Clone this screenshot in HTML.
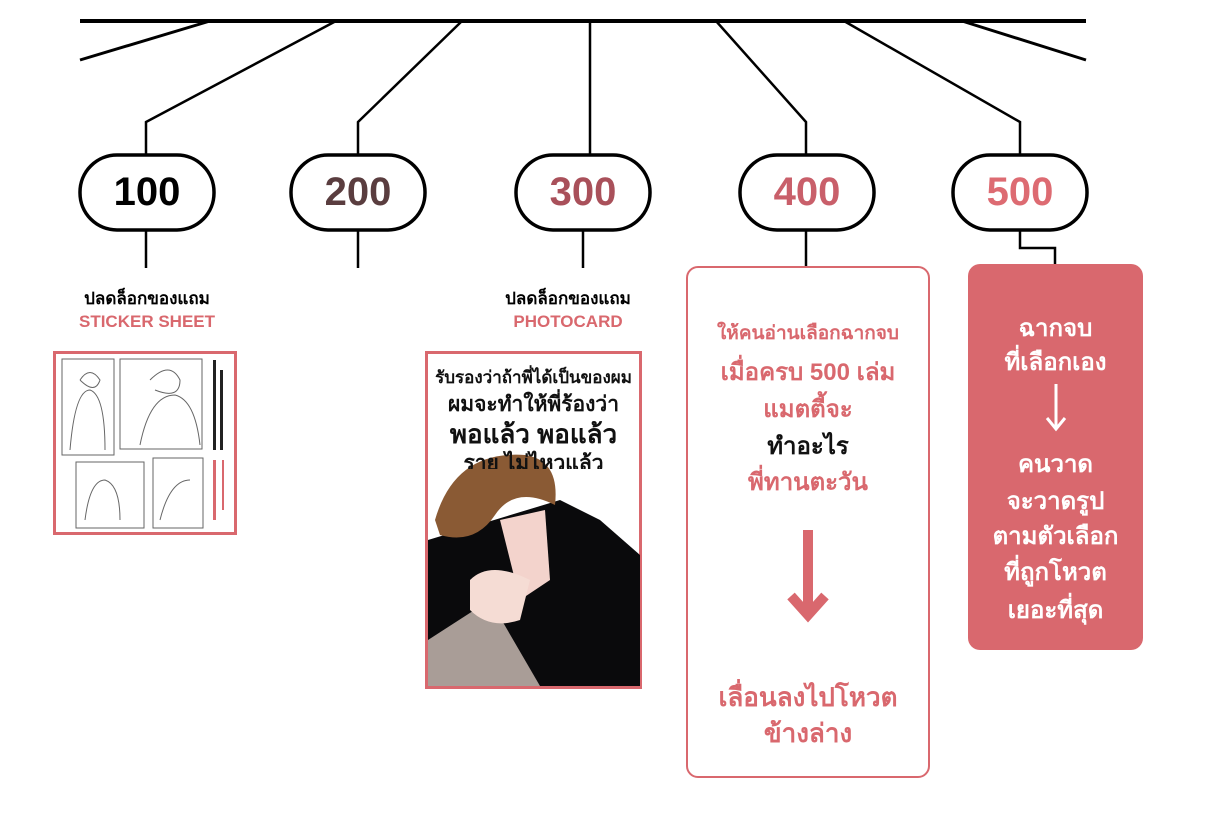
<!DOCTYPE html>
<html><head><meta charset="utf-8"><style>
html,body{margin:0;padding:0;background:#fff;}
body{width:1206px;height:815px;position:relative;overflow:hidden;font-family:"Liberation Sans","Noto Sans CJK SC",sans-serif;}
.t{position:absolute;text-align:center;white-space:nowrap;font-weight:bold;}
</style></head><body>
<svg width="1206" height="815" style="position:absolute;left:0;top:0">
<g stroke="#000" stroke-width="3" fill="none">
<line x1="80" y1="21" x2="1086" y2="21" stroke-width="4"/>
<line x1="210" y1="21" x2="80" y2="60"/>
<line x1="962" y1="21" x2="1086" y2="60"/>
<polyline points="336,21 146,122 146,155" stroke-width="2.5"/>
<polyline points="462,21 358,122 358,155" stroke-width="2.5"/>
<line x1="590" y1="21" x2="590" y2="155" stroke-width="2.5"/>
<polyline points="716,21 806,122 806,155" stroke-width="2.5"/>
<polyline points="844,21 1020,122 1020,155" stroke-width="2.5"/>
<line x1="146" y1="230" x2="146" y2="268" stroke-width="2.5"/>
<line x1="358" y1="230" x2="358" y2="268" stroke-width="2.5"/>
<line x1="583" y1="230" x2="583" y2="268" stroke-width="2.5"/>
<line x1="806" y1="230" x2="806" y2="268" stroke-width="2.5"/>
<polyline points="1020,230 1020,248 1055,248 1055,265" stroke-width="2.5"/>
<rect x="80" y="155" width="134" height="75" rx="37" stroke-width="3.5" fill="#fff"/>
<rect x="291" y="155" width="134" height="75" rx="37" stroke-width="3.5" fill="#fff"/>
<rect x="516" y="155" width="134" height="75" rx="37" stroke-width="3.5" fill="#fff"/>
<rect x="740" y="155" width="134" height="75" rx="37" stroke-width="3.5" fill="#fff"/>
<rect x="953" y="155" width="134" height="75" rx="37" stroke-width="3.5" fill="#fff"/>
</g>
<!-- sticker sheet -->
<rect x="54.5" y="352.5" width="181" height="181" fill="#fff" stroke="#d9686e" stroke-width="3"/>
<g stroke="#666" stroke-width="1" fill="none">
<rect x="62" y="359" width="52" height="96"/>
<rect x="120" y="359" width="82" height="90"/>
<rect x="76" y="462" width="68" height="66"/>
<rect x="153" y="458" width="50" height="70"/>
<path d="M70 450 q5-60 20-60 q15 5 15 60 M80 380 q10-15 20 0 q-5 15-20 0"/>
<path d="M140 445 q10-50 35-50 q20 5 25 50 M150 380 q20-20 30 0 q0 20-25 10"/>
<path d="M85 520 q5-40 20-40 q15 5 15 40"/>
<path d="M160 520 q10-40 30-40"/>
</g>
<g fill="#222"><rect x="213" y="360" width="3" height="90"/><rect x="220" y="370" width="3" height="80"/></g>
<g fill="#d9686e"><rect x="213" y="460" width="3" height="60"/><rect x="222" y="460" width="2" height="50"/></g>
<!-- photocard -->
<rect x="426.5" y="352.5" width="214" height="335" fill="#fff" stroke="#d9686e" stroke-width="3"/>
<path d="M428 540 L560 500 L600 520 L640 555 L640 686 L428 686 Z" fill="#0a0a0c"/>
<path d="M428 640 L490 600 L540 686 L428 686 Z" fill="#a99d97"/>
<path d="M500 520 L545 510 L550 580 L520 600 Z" fill="#f3d3cc"/>
<path d="M470 580 q20-20 60 0 l-10 40 q-30 10-50-10 Z" fill="#f5dcd4"/>
<path d="M435 520 q20-70 90-65 q35 5 30 50 q-40 -20-60 10 q-20 30-55 20 Z" fill="#8a5a34"/>
</svg>
<div class="t" style="left:80px;top:160px;width:134px;font-size:40px;line-height:64px;color:#000">100</div>
<div class="t" style="left:291px;top:160px;width:134px;font-size:40px;line-height:64px;color:#5a3d3f">200</div>
<div class="t" style="left:516px;top:160px;width:134px;font-size:40px;line-height:64px;color:#a9505a">300</div>
<div class="t" style="left:740px;top:160px;width:134px;font-size:40px;line-height:64px;color:#c95f6a">400</div>
<div class="t" style="left:953px;top:160px;width:134px;font-size:40px;line-height:64px;color:#dd6b72">500</div>

<div class="t" style="left:47px;top:285px;width:200px;font-size:17px;color:#000">ปลดล็อกของแถม</div>
<div class="t" style="left:47px;top:312px;width:200px;font-size:17px;color:#d9686e">STICKER SHEET</div>
<div class="t" style="left:468px;top:285px;width:200px;font-size:17px;color:#000">ปลดล็อกของแถม</div>
<div class="t" style="left:468px;top:312px;width:200px;font-size:17px;color:#d9686e">PHOTOCARD</div>

<div class="t" style="left:428px;top:364px;width:211px;font-size:17px;color:#111">รับรองว่าถ้าพี่ได้เป็นของผม</div>
<div class="t" style="left:428px;top:388px;width:211px;font-size:21px;color:#111">ผมจะทำให้พี่ร้องว่า</div>
<div class="t" style="left:428px;top:414px;width:211px;font-size:26px;color:#111">พอแล้ว พอแล้ว</div>
<div class="t" style="left:428px;top:447px;width:211px;font-size:21px;color:#111;overflow:hidden;height:22px">ราย ไม่ไหวแล้ว</div>

<div style="position:absolute;left:686px;top:266px;width:240px;height:508px;border:2.5px solid #d9686e;border-radius:12px"></div>
<div class="t" style="left:686px;top:318px;width:244px;font-size:19px;color:#d9686e">ให้คนอ่านเลือกฉากจบ</div>
<div class="t" style="left:686px;top:352px;width:244px;font-size:24px;color:#d9686e">เมื่อครบ 500 เล่ม</div>
<div class="t" style="left:686px;top:389px;width:244px;font-size:24px;color:#d9686e">แมตตี้จะ</div>
<div class="t" style="left:686px;top:426px;width:244px;font-size:24px;color:#111">ทำอะไร</div>
<div class="t" style="left:686px;top:462px;width:244px;font-size:24px;color:#d9686e">พี่ทานตะวัน</div>
<svg style="position:absolute;left:786px;top:530px" width="44" height="100"><line x1="22" y1="0" x2="22" y2="84" stroke="#d9686e" stroke-width="10"/><polyline points="5,66 22,85 39,66" fill="none" stroke="#d9686e" stroke-width="10"/></svg>
<div class="t" style="left:686px;top:677px;width:244px;font-size:26px;color:#d9686e">เลื่อนลงไปโหวต</div>
<div class="t" style="left:686px;top:713px;width:244px;font-size:26px;color:#d9686e">ข้างล่าง</div>

<div style="position:absolute;left:968px;top:264px;width:175px;height:386px;background:#d9686e;border-radius:12px"></div>
<div class="t" style="left:968px;top:308px;width:175px;font-size:24px;color:#fff">ฉากจบ</div>
<div class="t" style="left:968px;top:342px;width:175px;font-size:24px;color:#fff">ที่เลือกเอง</div>
<svg style="position:absolute;left:1044px;top:384px" width="24" height="50"><line x1="12" y1="0" x2="12" y2="44" stroke="#fff" stroke-width="3"/><polyline points="3,34 12,45 21,34" fill="none" stroke="#fff" stroke-width="3"/></svg>
<div class="t" style="left:968px;top:444px;width:175px;font-size:24px;color:#fff">คนวาด</div>
<div class="t" style="left:968px;top:481px;width:175px;font-size:24px;color:#fff">จะวาดรูป</div>
<div class="t" style="left:968px;top:516px;width:175px;font-size:24px;color:#fff">ตามตัวเลือก</div>
<div class="t" style="left:968px;top:552px;width:175px;font-size:24px;color:#fff">ที่ถูกโหวต</div>
<div class="t" style="left:968px;top:590px;width:175px;font-size:24px;color:#fff">เยอะที่สุด</div>
</body></html>
